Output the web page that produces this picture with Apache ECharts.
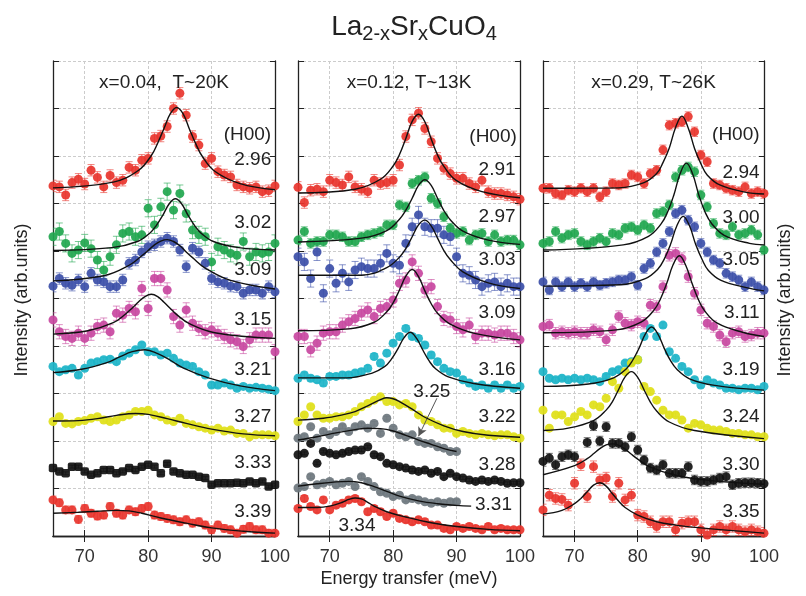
<!DOCTYPE html>
<html><head><meta charset="utf-8">
<script src="https://cdn.jsdelivr.net/npm/echarts@6/dist/echarts.min.js"></script>
<style>html,body{margin:0;padding:0;background:#fff}#c{width:806px;height:596px}</style>
</head><body><div id="c"></div>
<script>
// ---------- DATA ----------
const energy = [65,66,67,68,69,70,71,72,73,74,75,76,77,78,79,80,81,82,83,84,85,86,87,88,89,90,91,92,93,94,95,96,97,98,99,100];
const xTicks = [70,80,90];
const xTickLabels = [70,80,90,100];
const panelHeaders = ['x=0.04,  T~20K','x=0.12, T~13K','x=0.29, T~26K'];

// Panel 1 (x=0.04)
const p1_296 = [7.37,7.35,7.18,7.44,7.51,7.41,7.70,7.55,7.35,7.59,7.44,7.49,7.76,7.70,7.91,7.95,8.37,8.42,8.62,9.00,9.32,8.86,8.41,8.23,7.84,7.95,7.67,7.60,7.56,7.39,7.35,7.32,7.35,7.25,7.27,7.37];
const fit1_296 = [[65,7.33],[74.5,7.45],[78.5,7.70],[80.5,8.01],[81.5,8.27],[82.5,8.58],[83.5,8.89],[84.5,9.02],[85.5,8.89],[86.5,8.57],[87.5,8.26],[88.5,8.00],[90.5,7.68],[94.5,7.42],[100,7.29]];
const p1_302 = [6.30,6.41,6.16,5.95,6.02,6.17,6.05,5.81,5.60,5.88,6.13,6.37,6.41,6.30,6.34,6.90,6.55,6.93,7.25,6.86,7.21,6.79,6.44,6.34,6.30,5.77,6.09,6.02,5.95,5.91,6.20,5.88,5.98,5.95,5.98,6.16];
const fit1_302 = [[65,6.01],[74.3,6.07],[78.3,6.20],[80.3,6.38],[81.3,6.54],[82.3,6.75],[83.3,6.99],[84.3,7.10],[85.3,6.99],[86.3,6.75],[87.3,6.54],[88.3,6.38],[90.3,6.20],[94.3,6.07],[100,6.02]];
const p1_309 = [5.26,5.42,5.32,5.28,5.39,5.25,5.53,5.39,5.35,5.25,5.25,5.39,5.74,5.81,5.98,6.09,6.13,6.20,6.27,6.20,6.02,5.67,6.06,5.98,5.74,5.42,5.35,5.32,5.26,5.25,5.11,5.18,5.18,5.11,5.25,5.14];
const fit1_309 = [[65,5.37],[73,5.48],[77,5.70],[79,5.90],[80,6.01],[81,6.13],[82,6.21],[83,6.24],[84,6.20],[85,6.11],[86,5.98],[87,5.86],[89,5.64],[93,5.38],[100,5.20]];
const p1_315 = [4.55,4.30,4.20,4.16,4.27,4.16,4.27,4.41,4.44,4.30,4.69,4.65,4.79,4.72,5.21,4.79,5.42,5.42,5.18,4.62,4.44,4.76,4.48,4.37,4.30,4.34,4.27,4.20,4.13,4.09,3.99,4.13,4.23,4.23,4.23,3.88];
const fit1_315 = [[65,4.25],[70.5,4.32],[74.5,4.49],[76.5,4.68],[77.5,4.80],[78.5,4.93],[79.5,5.04],[80.5,5.09],[81.5,5.04],[82.5,4.92],[83.5,4.79],[84.5,4.66],[86.5,4.47],[90.5,4.28],[100,4.16]];
const p1_321 = [3.57,3.46,3.50,3.53,3.39,3.53,3.64,3.67,3.71,3.72,3.67,3.79,3.85,3.92,4.02,3.88,3.88,3.81,3.85,3.74,3.64,3.60,3.57,3.46,3.39,3.18,3.18,3.22,3.18,3.11,3.15,3.11,3.13,3.11,3.09,3.06];
const fit1_321 = [[65,3.44],[69.5,3.51],[73.5,3.65],[75.5,3.77],[77.5,3.88],[79.5,3.92],[81.5,3.84],[83.5,3.70],[85.5,3.54],[89.5,3.33],[94.5,3.16],[100,3.06]];
const p1_327 = [2.41,2.51,2.37,2.36,2.41,2.43,2.48,2.51,2.44,2.41,2.44,2.51,2.55,2.62,2.62,2.65,2.55,2.51,2.44,2.41,2.48,2.37,2.34,2.30,2.27,2.23,2.27,2.21,2.23,2.16,2.16,2.09,2.13,2.13,2.13,2.11];
const fit1_327 = [[65,2.42],[69,2.43],[72,2.47],[75,2.54],[78,2.58],[80,2.56],[83,2.47],[86,2.37],[90,2.25],[95,2.15],[100,2.11]];
const p1_333 = [1.43,1.36,1.32,1.46,1.46,1.36,1.29,1.32,1.39,1.39,1.32,1.36,1.43,1.39,1.46,1.50,1.46,1.32,1.52,1.36,1.32,1.29,1.29,1.25,1.22,1.08,1.11,1.11,1.11,1.12,1.11,1.15,1.11,1.15,1.04,1.08];
const p1_339 = [0.76,0.70,0.55,0.55,0.35,0.58,0.48,0.42,0.44,0.62,0.48,0.44,0.55,0.51,0.58,0.62,0.44,0.41,0.37,0.34,0.30,0.34,0.27,0.30,0.23,0.13,0.23,0.16,0.13,0.06,0.14,0.20,0.13,0.13,0.06,0.06];
const fit1_339 = [[65,0.48],[69,0.50],[72,0.52],[75,0.54],[77,0.53],[79,0.48],[82,0.38],[86,0.27],[90,0.17],[95,0.10],[100,0.06]];

// Panel 2 (x=0.12)
const p2_291 = [7.34,7.02,7.28,7.30,7.25,7.49,7.44,7.39,7.56,7.35,7.30,7.25,7.49,7.42,7.44,7.49,7.81,8.41,8.76,8.90,8.58,8.30,7.95,7.74,7.63,7.53,7.53,7.42,7.35,7.49,7.25,7.21,7.21,7.18,7.14,7.09];
const fit2_291 = [[65,7.22],[74,7.30],[78,7.51],[80,7.79],[81,8.03],[82,8.37],[83,8.73],[84,8.88],[85,8.72],[86,8.36],[87,8.02],[88,7.78],[90,7.48],[94,7.25],[100,7.12]];
const p2_297 = [6.23,6.41,6.16,6.20,6.20,6.34,6.34,6.30,6.20,6.20,6.30,6.34,6.37,6.41,6.55,6.55,6.97,6.93,7.42,7.49,7.56,7.11,7.00,6.72,6.48,6.37,6.41,6.23,6.34,6.37,6.20,6.34,6.20,6.23,6.23,6.13];
const fit2_297 = [[65,6.19],[75,6.27],[79,6.43],[81,6.67],[82,6.86],[83,7.11],[84,7.38],[85,7.50],[86,7.38],[87,7.11],[88,6.85],[89,6.66],[91,6.42],[95,6.23],[100,6.14]];
const p2_303 = [5.88,5.77,5.42,5.98,5.11,5.63,5.32,5.53,5.35,5.60,5.67,5.63,5.63,5.74,5.95,5.74,5.70,6.16,6.51,6.76,6.51,6.48,6.48,6.34,6.30,5.88,5.53,5.49,5.39,5.25,5.32,5.35,5.25,5.32,5.25,5.25];
const fit2_303 = [[65,5.49],[75,5.49],[79,5.65],[81,5.87],[82,6.05],[83,6.30],[84,6.55],[85,6.65],[86,6.53],[87,6.27],[88,6.01],[89,5.82],[91,5.56],[95,5.33],[100,5.21]];
const p2_309 = [4.20,4.20,3.92,4.06,4.27,4.30,4.30,4.44,4.51,4.58,4.69,4.76,4.62,4.79,4.83,4.97,5.32,5.39,5.77,5.53,5.18,5.25,4.83,4.58,4.55,4.41,4.34,4.44,4.20,4.27,4.27,4.23,4.27,4.27,4.20,4.13];
const fit2_309 = [[65,4.32],[73,4.36],[77,4.50],[79,4.72],[80,4.91],[81,5.18],[82,5.47],[83,5.61],[84,5.46],[85,5.16],[86,4.89],[87,4.69],[89,4.46],[93,4.26],[100,4.13]];
const p2_316 = [3.32,3.39,3.32,3.29,3.22,3.36,3.36,3.39,3.39,3.43,3.46,3.53,3.78,3.64,3.85,4.06,4.20,4.37,4.20,4.16,4.02,3.81,3.67,3.53,3.46,3.43,3.29,3.22,3.15,3.18,3.11,3.18,3.11,3.18,3.11,3.15];
const fit2_316 = [[65,3.33],[72.7,3.33],[76.7,3.43],[78.7,3.57],[79.7,3.72],[80.7,3.93],[81.7,4.17],[82.7,4.29],[83.7,4.16],[84.7,3.91],[85.7,3.68],[86.7,3.52],[88.7,3.35],[92.7,3.21],[100,3.11]];
const p2_322 = [2.41,2.55,2.72,2.55,2.48,2.48,2.51,2.51,2.55,2.62,2.72,2.79,2.86,2.93,2.83,2.83,2.76,2.79,2.72,2.55,2.44,2.41,2.34,2.27,2.27,2.16,2.20,2.16,2.13,2.16,2.13,2.11,2.13,2.13,2.09,2.06];
const fit2_322 = [[65,2.44],[69,2.48],[72,2.55],[74,2.62],[76,2.74],[78,2.87],[79,2.91],[80,2.89],[81,2.83],[83,2.67],[85,2.50],[88,2.32],[91,2.20],[95,2.12],[100,2.08]];
const p2_325 = [2.06,2.09,2.30,2.06,2.20,2.13,2.20,2.30,2.20,2.30,2.34,2.27,2.37,2.16,2.48,2.27,2.13,2.09,2.13,1.99,1.95,1.95,1.88,1.85,1.78,1.78];
const fit2_325 = [[65,2.02],[68,2.09],[71,2.17],[74,2.24],[76,2.27],[78,2.26],[80,2.21],[82,2.12],[84,2.02],[86,1.93],[88,1.84],[90,1.78]];
const p2_328 = [1.71,1.74,1.95,1.53,1.78,1.74,1.71,1.74,1.78,1.81,1.81,1.88,1.71,1.67,1.53,1.50,1.46,1.43,1.39,1.36,1.39,1.32,1.36,1.25,1.32,1.25,1.22,1.18,1.15,1.18,1.15,1.18,1.15,1.11,1.12,1.12];
const p2_331 = [1.01,1.04,1.25,1.08,1.11,1.15,1.08,1.11,1.15,1.04,1.25,1.15,1.04,0.93,0.90,0.83,0.86,0.76,0.79,0.76,0.72,0.69,0.72,0.69,0.72,0.72];
const fit2_331 = [[65,1.05],[68,1.10],[71,1.14],[73,1.15],[75,1.12],[77,1.04],[79,0.94],[81,0.84],[84,0.74],[87,0.68],[90,0.645],[92.3,0.63]];
const p2_334 = [0.58,0.79,0.62,0.55,0.76,0.55,0.65,0.69,0.76,0.79,0.72,0.51,0.58,0.51,0.41,0.48,0.37,0.34,0.30,0.34,0.30,0.23,0.23,0.16,0.13,0.20,0.16,0.20,0.16,0.13,0.20,0.13,0.16,0.13,0.13,0.13];
const fit2_334 = [[65,0.60],[68,0.60],[70,0.63],[72,0.71],[73,0.77],[74,0.80],[75,0.78],[76,0.71],[77,0.63],[79,0.51],[82,0.40],[86,0.28],[90,0.20],[95,0.14],[100,0.11]];

// Panel 3 (x=0.29)
const p3_294 = [7.32,7.32,7.21,7.18,7.28,7.25,7.32,7.25,7.32,7.14,7.25,7.42,7.39,7.42,7.60,7.56,7.42,7.63,7.70,8.13,8.65,8.69,8.72,8.83,8.51,8.02,7.88,7.42,7.39,7.32,7.28,7.25,7.35,7.21,7.25,7.21];
const fit3_294 = [[65,7.32],[77,7.33],[81,7.44],[83,7.63],[84,7.86],[85,8.17],[86,8.60],[87,8.84],[88,8.59],[89,8.16],[90,7.84],[91,7.60],[93,7.39],[97,7.24],[100,7.20]];
const p3_300 = [6.16,6.20,6.41,6.27,6.34,6.37,6.20,6.13,6.20,6.27,6.20,6.37,6.34,6.48,6.51,6.44,6.55,6.48,6.79,6.83,6.97,7.56,7.70,7.77,7.67,7.18,6.93,6.58,6.37,6.34,6.51,6.34,6.37,6.44,6.34,6.02];
const fit3_300 = [[65,6.02],[77.7,6.13],[81.7,6.31],[83.7,6.57],[84.7,6.81],[85.7,7.17],[86.7,7.62],[87.7,7.85],[88.7,7.62],[89.7,7.17],[90.7,6.81],[91.7,6.58],[93.7,6.33],[97.7,6.16],[100,6.13]];
const p3_305 = [5.35,5.18,5.35,5.25,5.35,5.25,5.32,5.25,5.35,5.28,5.32,5.35,5.39,5.39,5.46,5.28,5.63,5.74,5.98,6.16,6.41,6.79,6.86,6.65,6.51,6.16,5.98,5.81,5.74,5.53,5.46,5.39,5.25,5.35,5.25,5.18];
const fit3_305 = [[65,5.26],[77.2,5.29],[81.2,5.42],[83.2,5.62],[84.2,5.83],[85.2,6.14],[86.2,6.53],[87.2,6.73],[88.2,6.53],[89.2,6.13],[90.2,5.82],[91.2,5.59],[93.2,5.38],[97.2,5.23],[100,5.16]];
const p3_311 = [4.41,4.44,4.27,4.30,4.27,4.30,4.27,4.27,4.34,4.30,4.13,4.34,4.62,4.48,4.44,4.51,4.48,4.86,4.83,5.25,5.91,5.95,5.84,5.46,5.11,4.76,4.48,4.41,4.23,4.09,4.27,4.30,4.20,4.23,4.27,4.27];
const fit3_311 = [[65,4.28],[76.6,4.34],[80.6,4.51],[82.6,4.76],[83.6,4.99],[84.6,5.32],[85.6,5.71],[86.6,5.90],[87.6,5.70],[88.6,5.32],[89.6,4.98],[90.6,4.74],[92.6,4.48],[96.6,4.29],[100,4.20]];
const p3_319 = [3.46,3.32,3.29,3.32,3.29,3.32,3.29,3.32,3.29,3.25,3.36,3.46,3.50,3.64,3.67,3.71,4.20,4.37,4.20,4.44,3.88,3.74,3.57,3.46,3.29,3.18,3.29,3.22,3.18,3.11,3.11,3.08,3.11,3.11,3.08,3.15];
const fit3_319 = [[65,3.15],[72.2,3.20],[76.2,3.33],[78.2,3.52],[79.2,3.70],[80.2,3.95],[81.2,4.25],[82.2,4.40],[83.2,4.25],[84.2,3.95],[85.2,3.69],[86.2,3.51],[88.2,3.31],[92.2,3.17],[100,3.07]];
const p3_324 = [2.65,2.27,2.55,2.55,2.41,2.51,2.62,2.55,2.76,2.72,2.90,3.25,3.11,3.46,3.64,3.71,3.15,3.04,2.86,2.65,2.55,2.55,2.44,2.27,2.37,2.34,2.27,2.23,2.23,2.20,2.16,2.16,2.13,2.13,2.09,2.09];
const fit3_324 = [[65,2.22],[69,2.27],[73,2.43],[75,2.65],[76,2.83],[77,3.09],[78,3.35],[79,3.46],[80,3.34],[81,3.08],[82,2.82],[83,2.63],[85,2.40],[89,2.22],[100,2.05]];
const p3_330 = [1.57,1.64,1.50,1.67,1.71,1.67,null,1.97,2.32,2.00,2.30,1.95,1.95,1.88,2.09,1.81,1.60,1.43,1.39,1.50,1.32,1.32,1.32,1.46,1.18,1.15,1.15,1.18,1.22,1.25,1.08,1.11,1.12,1.12,1.11,1.10];
const fit3_330 = [[65,1.29],[70,1.48],[72,1.63],[73,1.73],[74,1.84],[75,1.92],[76,1.94],[77,1.91],[78,1.83],[79,1.72],[80,1.62],[82,1.45],[86,1.28],[92,1.16],[100,1.09]];
const p3_335 = [0.55,0.86,0.79,0.77,0.65,1.11,1.50,0.83,1.46,1.18,1.22,0.83,1.11,0.76,0.86,0.44,0.41,0.30,0.20,0.30,0.30,0.13,0.27,0.30,0.30,0.13,0.02,0.13,0.20,0.13,0.20,0.13,0.09,0.13,0.09,0.06];
const fit3_335 = [[65,0.46],[68,0.54],[70,0.68],[71,0.79],[72,0.93],[73,1.07],[74,1.12],[75,1.05],[76,0.89],[77,0.73],[78,0.60],[80,0.44],[83,0.30],[86,0.23],[90,0.17],[100,0.06]];

// ---------- STYLE / LAYOUT ----------
const RED='#e8342c', GREEN='#1fa64e', BLUE='#3b4ea8', MAG='#c8479f', CYAN='#1db4c8', YEL='#e0e01a', BLK='#111111', GREY='#6e777e';
const FONT = '"Liberation Sans", Arial, Helvetica, sans-serif';
const GRID_TOP = 61, GRID_H = 475;
const GRIDS = [{left:53,width:222},{left:298,width:222},{left:543,width:221}];

const panels = [
  { series: [
      {data:p1_296, fit:fit1_296, color:RED,  err:0.12},
      {data:p1_302, fit:fit1_302, color:GREEN,err:0.18},
      {data:p1_309, fit:fit1_309, color:BLUE, err:0.12},
      {data:p1_315, fit:fit1_315, color:MAG,  err:0.15},
      {data:p1_321, fit:fit1_321, color:CYAN, err:0.05},
      {data:p1_327, fit:fit1_327, color:YEL,  err:0.04},
      {data:p1_333, fit:null,     color:BLK,  err:0.03, symbol:'roundRect'},
      {data:p1_339, fit:fit1_339, color:RED,  err:0.08}],
    labels: [
      {t:'(H00)',x:99.4,y:8.44},{t:'2.96',x:99.4,y:7.92},{t:'3.02',x:99.4,y:6.59},{t:'3.09',x:99.4,y:5.60},
      {t:'3.15',x:99.4,y:4.55},{t:'3.21',x:99.4,y:3.50},{t:'3.27',x:99.4,y:2.50},{t:'3.33',x:99.4,y:1.54},{t:'3.39',x:99.4,y:0.51}]
  },
  { series: [
      {data:p2_291, fit:fit2_291, color:RED,  err:0.12},
      {data:p2_297, fit:fit2_297, color:GREEN,err:0.10},
      {data:p2_303, fit:fit2_303, color:BLUE, err:0.18},
      {data:p2_309, fit:fit2_309, color:MAG,  err:0.15},
      {data:p2_316, fit:fit2_316, color:CYAN, err:0.06},
      {data:p2_322, fit:fit2_322, color:YEL,  err:0.04},
      {data:p2_325, fit:fit2_325, color:GREY, err:0.04, arrow:[[86.9,2.90],[84.0,2.10]]},
      {data:p2_328, fit:null,     color:BLK,  err:0.03},
      {data:p2_331, fit:fit2_331, color:GREY, err:0.04},
      {data:p2_334, fit:fit2_334, color:RED,  err:0.06}],
    labels: [
      {t:'(H00)',x:99.5,y:8.40},{t:'2.91',x:99.3,y:7.71},{t:'2.97',x:99.3,y:6.72},{t:'3.03',x:99.3,y:5.81},
      {t:'3.09',x:99.3,y:4.69},{t:'3.16',x:99.3,y:3.49},{t:'3.22',x:99.3,y:2.51},{t:'3.28',x:99.3,y:1.49},
      {t:'3.31',x:92.9,y:0.65,align:'left'},{t:'3.25',x:86.1,y:3.03,align:'center'},{t:'3.34',x:74.3,y:0.21,align:'center'}]
  },
  { series: [
      {data:p3_294, fit:fit3_294, color:RED,  err:0.10},
      {data:p3_300, fit:fit3_300, color:GREEN,err:0.10},
      {data:p3_305, fit:fit3_305, color:BLUE, err:0.10},
      {data:p3_311, fit:fit3_311, color:MAG,  err:0.12},
      {data:p3_319, fit:fit3_319, color:CYAN, err:0.05},
      {data:p3_324, fit:fit3_324, color:YEL,  err:0.04},
      {data:p3_330, fit:fit3_330, color:BLK,  err:0.10},
      {data:p3_335, fit:fit3_335, color:RED,  err:0.12}],
    labels: [
      {t:'(H00)',x:99.3,y:8.44},{t:'2.94',x:99.3,y:7.64},{t:'3.00',x:99.3,y:6.69},{t:'3.05',x:99.3,y:5.81},
      {t:'3.11',x:99.3,y:4.69},{t:'3.19',x:99.3,y:3.49},{t:'3.24',x:99.3,y:2.51},{t:'3.30',x:99.3,y:1.49},{t:'3.35',x:99.3,y:0.51}]
  }
];

// ---------- BUILD ----------
const chart = echarts.init(document.getElementById('c'), null, {renderer:'canvas'});
const grid = [], xAxis = [], yAxis = [], series = [];

GRIDS.forEach((g, gi) => {
  grid.push({left:g.left, width:g.width, top:GRID_TOP, height:GRID_H, containLabel:false});
  const axLine = {show:true, lineStyle:{color:'#222', width:1.3}};
  xAxis.push({type:'value', gridIndex:gi, min:65, max:100, interval:5, position:'bottom',
    axisLine:axLine,
    axisTick:{show:true, inside:true, length:6, customValues:xTicks, lineStyle:{color:'#222'}},
    axisLabel:{show:true, customValues:xTickLabels, margin:12, fontSize:18, color:'#333', fontFamily:FONT},
    splitLine:{show:true, lineStyle:{color:'#cccccc', type:[3,2], width:1}}
  });
  xAxis.push({type:'value', gridIndex:gi, min:65, max:100, interval:5, position:'top',
    axisLine:axLine,
    axisTick:{show:true, inside:true, length:6, customValues:xTicks, lineStyle:{color:'#222'}},
    axisLabel:{show:false}, splitLine:{show:false}
  });
  yAxis.push({type:'value', gridIndex:gi, min:0, max:10, interval:1, position:'left',
    axisLine:axLine,
    axisTick:{show:true, inside:true, length:6, lineStyle:{color:'#222'}},
    axisLabel:{show:false},
    splitLine:{show:true, lineStyle:{color:'#cccccc', type:[3,2], width:1}}
  });
  yAxis.push({type:'value', gridIndex:gi, min:0, max:10, interval:1, position:'right',
    axisLine:axLine,
    axisTick:{show:true, inside:true, length:5, lineStyle:{color:'#222'}},
    axisLabel:{show:false}, splitLine:{show:false}
  });
});

function makeErr(gi, pts, err, color){
  return {
    type:'custom', xAxisIndex:gi*2, yAxisIndex:gi*2, silent:true, z:2, clip:true,
    data: pts,
    renderItem: function(params, api){
      const x = api.value(0), y = api.value(1);
      const top = api.coord([x, y+err]), bot = api.coord([x, y-err]);
      const hw = 3.5;
      const st = {stroke:color, lineWidth:1, opacity:0.6};
      return {type:'group', children:[
        {type:'line', shape:{x1:top[0],y1:top[1],x2:bot[0],y2:bot[1]}, style:st},
        {type:'line', shape:{x1:top[0]-hw,y1:top[1],x2:top[0]+hw,y2:top[1]}, style:st},
        {type:'line', shape:{x1:bot[0]-hw,y1:bot[1],x2:bot[0]+hw,y2:bot[1]}, style:st}
      ]};
    }
  };
}

panels.forEach((p, gi) => {
  p.series.forEach((s) => {
    const pts = [];
    s.data.forEach((v, i) => { if (v !== null && v !== undefined) pts.push([energy[i], v]); });
    series.push(makeErr(gi, pts, s.err, s.color));
    series.push({type:'scatter', xAxisIndex:gi*2, yAxisIndex:gi*2, data:pts, silent:true, z:3,
      symbol: s.symbol || 'circle', symbolSize: s.symbol ? 8.5 : 9,
      itemStyle:{color:s.color, opacity:0.92}});
    if (s.fit) {
      const ln = {type:'line', xAxisIndex:gi*2, yAxisIndex:gi*2, data:s.fit, smooth:0.4,
        showSymbol:false, symbol:'none', silent:true, z:5,
        lineStyle:{color:'#111', width:1.4}};
      if (s.arrow) {
        ln.markLine = {silent:true, symbol:['none','arrow'], symbolSize:[7,9], label:{show:false},
          lineStyle:{color:'#555', width:1, type:'solid'},
          data:[[{coord:s.arrow[0]},{coord:s.arrow[1]}]]};
      }
      series.push(ln);
    }
  });
});

const option = {
  animation:false,
  backgroundColor:'#ffffff',
  textStyle:{fontFamily:FONT},
  title:{
    text:'La{s|2-x}Sr{s|x}CuO{s|4}', left:409, top:5, textAlign:'center',
    textStyle:{fontSize:28, fontWeight:'normal', color:'#222', fontFamily:FONT, lineHeight:34,
      rich:{s:{fontSize:20, color:'#222', fontFamily:FONT, verticalAlign:'bottom', lineHeight:20, padding:[18,0,0,0]}}}
  },
  grid, xAxis, yAxis, series
};
chart.setOption(option);

// texts placed through the axes' own scales
const graphics = [];
panels.forEach((p, gi) => {
  const finder = {xAxisIndex:gi*2, yAxisIndex:gi*2};
  p.labels.forEach(l => {
    const pt = chart.convertToPixel(finder, [l.x, l.y]);
    graphics.push({type:'text', x:pt[0], y:pt[1], z:10, silent:true,
      style:{text:l.t, fill:'#222', font:'19px ' + FONT, textAlign:l.align||'right', textVerticalAlign:'middle',
        align:l.align||'right', verticalAlign:'middle'}});
  });
  const c = chart.convertToPixel(finder, [82.5, 9.54]);
  graphics.push({type:'text', x:c[0], y:c[1], z:10, silent:true,
    style:{text:panelHeaders[gi], fill:'#222', font:'19px ' + FONT, textAlign:'center', textVerticalAlign:'middle',
      align:'center', verticalAlign:'middle'}});
});
graphics.push({type:'text', x:409, y:579, z:10, silent:true,
  style:{text:'Energy transfer (meV)', fill:'#222', font:'18px ' + FONT, textAlign:'center', textVerticalAlign:'middle', align:'center', verticalAlign:'middle'}});
graphics.push({type:'text', x:22, y:300, rotation:Math.PI/2, z:10, silent:true,
  style:{text:'Intensity (arb.units)', fill:'#222', font:'18px ' + FONT, textAlign:'center', textVerticalAlign:'middle', align:'center', verticalAlign:'middle'}});
graphics.push({type:'text', x:785, y:300, rotation:Math.PI/2, z:10, silent:true,
  style:{text:'Intensity (arb.units)', fill:'#222', font:'18px ' + FONT, textAlign:'center', textVerticalAlign:'middle', align:'center', verticalAlign:'middle'}});
chart.setOption({graphic: graphics});
</script>
</body></html>
